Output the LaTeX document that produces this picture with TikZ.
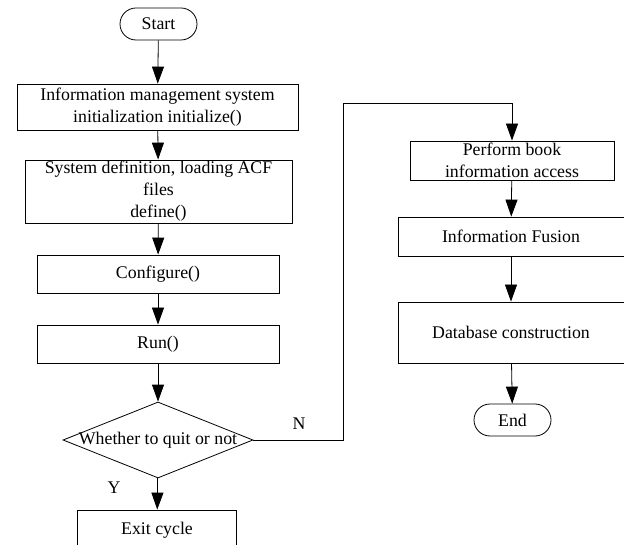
\documentclass[tikz,border=0pt]{standalone}
\usepackage{fontspec}
\setmainfont{Liberation Serif}
\usetikzlibrary{shapes.geometric,arrows.meta}

\begin{document}
\begin{tikzpicture}[x=1pt, y=-1pt,
    every node/.style={font=\fontsize{17.8}{22}\selectfont},
    proc/.style={draw, line width=0.8pt, rectangle, align=center, inner sep=0pt},
    term/.style={draw, line width=0.8pt, rectangle, rounded corners=16pt, minimum width=77pt, minimum height=32pt, inner sep=0pt},
    decision/.style={draw, line width=0.8pt, diamond, inner sep=0pt, minimum width=190pt, minimum height=76pt},
    arr/.style={line width=0.8pt, -{Triangle[length=17pt, width=12pt]}}]
            \useasboundingbox (0,0) rectangle (624,545);
            \clip              (0,0) rectangle (624,545);
            % left column
            \node[term]                                          (start)  at (158.5, 24.0) {Start};
            \node[proc, minimum width=281pt, minimum height=46pt] (init)   at (157.5,107.0) {Information management system\\initialization initialize()};
            \node[proc, minimum width=267pt, minimum height=63pt] (define) at (158.5,191.5) {System definition, loading ACF\\files\\define()};
            \node[proc, minimum width=242pt, minimum height=38pt] (config) at (158.0,274.0) {Configure()};
            \node[proc, minimum width=242pt, minimum height=38pt] (run)    at (158.0,344.0) {Run()};
            \node[decision]                                      (judge)  at (158.0,440.0) {\makebox[0pt]{Whether to quit or not}};
            \node[proc, minimum width=159pt, minimum height=44pt] (exit)   at (157.0,532.0) {\raisebox{7pt}{Exit cycle}};
            % right column
            \node[proc, minimum width=204pt, minimum height=39pt] (access) at (512.0,160.5) {Perform book\\information access};
            \node[proc, minimum width=226pt, minimum height=39pt] (fusion) at (511.0,236.5) {Information Fusion};
            \node[proc, minimum width=226pt, minimum height=61pt] (build)  at (511.0,332.5) {Database construction};
            \node[term]                                          (finish) at (512.5,420.0) {End};
            \coordinate (turn) at (343,103);
            % labels
            \node (no)  at (299,424) {N};
            \node (yes) at (114,488) {Y};
            % connectors
            \draw[arr] (start)  -- (init);
            \draw[arr] (init)   -- (define);
            \draw[arr] (define) -- (config);
            \draw[arr] (config) -- (run);
            \draw[arr] (run)    -- (judge);
            \draw[arr] (judge)  -- (exit);
            \draw[arr] (judge.east) -| (turn) -| (access.north);
            \draw[arr] (access) -- (fusion);
            \draw[arr] (fusion) -- (build);
            \draw[arr] (build)  -- (finish);
        \end{tikzpicture}
\end{document}
